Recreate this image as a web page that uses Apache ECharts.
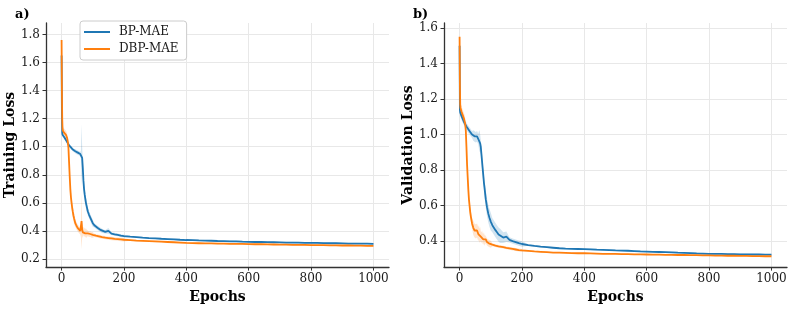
<!DOCTYPE html>
<html>
<head>
<meta charset="utf-8">
<script src="https://cdn.jsdelivr.net/npm/echarts@6/dist/echarts.min.js"></script>
<style>html,body{margin:0;padding:0;background:#fff}#c{width:793px;height:309px}</style>
</head>
<body>
<div id="c"></div>
<script>
// ---------- data ----------
const epochs = [0,1,2,3,4,6,8,10,12,14,16,18,20,22,24,26,28,30,32,34,36,38,40,44,48,52,56,60,62,64,66,68,70,72,74,76,78,80,84,88,92,96,100,105,110,115,120,125,130,140,150,160,170,180,190,200,
220,240,260,280,300,320,340,360,380,400,420,440,460,480,500,520,540,560,580,600,620,640,660,680,700,720,740,760,780,800,820,840,860,880,900,920,940,960,980,1000];

const trainBP = [1.65,1.25,1.10,1.085,1.08,1.075,1.07,1.065,1.055,1.05,1.04,1.035,1.025,1.02,1.01,1.005,1.0,0.995,0.99,0.985,0.98,0.975,0.972,0.968,0.962,0.958,0.952,0.948,0.944,0.94,0.92,0.85,0.76,0.70,0.66,0.63,0.60,0.58,0.54,0.515,0.495,0.475,0.455,0.44,0.43,0.422,0.414,0.407,0.40,0.393,0.40,0.381,0.376,0.372,0.367,0.363,
0.359,0.356,0.352,0.349,0.347,0.344,0.342,0.340,0.337,0.335,0.334,0.332,0.331,0.330,0.328,0.327,0.326,0.325,0.323,0.322,0.321,0.321,0.320,0.319,0.318,0.317,0.317,0.316,0.315,0.314,0.314,0.313,0.312,0.312,0.311,0.310,0.310,0.309,0.309,0.308];
const trainDBP = [1.76,1.40,1.20,1.13,1.115,1.105,1.10,1.095,1.09,1.085,1.075,1.06,1.035,0.99,0.89,0.79,0.70,0.64,0.60,0.565,0.535,0.51,0.49,0.455,0.435,0.42,0.408,0.40,0.395,0.47,0.41,0.39,0.40,0.385,0.395,0.382,0.39,0.38,0.383,0.376,0.378,0.372,0.372,0.368,0.366,0.363,0.361,0.358,0.356,0.352,0.349,0.346,0.343,0.341,0.339,0.337,
0.334,0.331,0.329,0.327,0.325,0.323,0.321,0.319,0.317,0.314,0.313,0.312,0.311,0.311,0.310,0.309,0.308,0.308,0.307,0.306,0.305,0.305,0.304,0.303,0.302,0.302,0.301,0.300,0.300,0.299,0.298,0.298,0.297,0.297,0.296,0.296,0.295,0.295,0.294,0.294];
const trainBPSpread = [0.08,0.05,0.02,0.012,0.012,0.012,0.012,0.012,0.012,0.012,0.012,0.012,0.012,0.012,0.012,0.012,0.012,0.012,0.012,0.012,0.012,0.012,0.012,0.015,0.015,0.015,0.015,0.015,0.03,0.22,0.08,0.05,0.04,0.04,0.04,0.04,0.04,0.04,0.025,0.025,0.025,0.025,0.025,0.015,0.015,0.015,0.015,0.015,0.015,0.012,0.02,0.01,0.01,0.01,0.01,0.01,
0.005,0.005,0.005,0.005,0.005,0.005,0.005,0.005,0.005,0.005,0.005,0.005,0.005,0.005,0.005,0.005,0.005,0.005,0.005,0.005,0.005,0.005,0.005,0.005,0.005,0.005,0.005,0.005,0.005,0.005,0.005,0.005,0.005,0.005,0.005,0.005,0.005,0.005,0.005,0.005];
const trainDBPSpread = [0.03,0.05,0.04,0.03,0.03,0.03,0.03,0.03,0.03,0.03,0.03,0.03,0.03,0.04,0.04,0.04,0.04,0.04,0.04,0.04,0.04,0.04,0.04,0.025,0.025,0.025,0.025,0.025,0.04,0.2,0.06,0.03,0.03,0.03,0.03,0.03,0.03,0.03,0.02,0.02,0.02,0.02,0.02,0.012,0.012,0.012,0.012,0.012,0.012,0.012,0.012,0.012,0.012,0.012,0.012,0.012,
0.005,0.005,0.005,0.005,0.005,0.005,0.005,0.005,0.005,0.005,0.005,0.005,0.005,0.005,0.005,0.005,0.005,0.005,0.005,0.005,0.005,0.005,0.005,0.005,0.005,0.005,0.005,0.005,0.005,0.005,0.005,0.005,0.005,0.005,0.005,0.005,0.005,0.005,0.005,0.005];

const valBP = [1.50,1.14,1.125,1.12,1.115,1.105,1.095,1.088,1.08,1.072,1.065,1.058,1.052,1.046,1.04,1.035,1.03,1.025,1.02,1.015,1.01,1.005,1.0,0.995,0.99,0.985,0.99,0.975,0.97,0.965,0.95,0.93,0.89,0.85,0.81,0.77,0.73,0.70,0.635,0.59,0.555,0.53,0.51,0.49,0.476,0.462,0.45,0.437,0.43,0.42,0.425,0.407,0.40,0.395,0.389,0.384,
0.378,0.373,0.369,0.366,0.363,0.360,0.358,0.357,0.356,0.355,0.354,0.352,0.351,0.350,0.348,0.347,0.346,0.344,0.342,0.341,0.340,0.339,0.338,0.337,0.335,0.334,0.333,0.331,0.330,0.329,0.328,0.328,0.327,0.327,0.326,0.326,0.325,0.325,0.324,0.324];
const valDBP = [1.55,1.28,1.17,1.15,1.14,1.13,1.12,1.11,1.10,1.09,1.08,1.06,1.02,0.93,0.83,0.76,0.69,0.635,0.60,0.565,0.54,0.52,0.50,0.475,0.46,0.455,0.46,0.44,0.45,0.43,0.44,0.425,0.42,0.43,0.415,0.41,0.42,0.404,0.41,0.395,0.39,0.386,0.383,0.38,0.377,0.375,0.373,0.371,0.369,0.366,0.362,0.359,0.356,0.353,0.35,0.348,
0.345,0.342,0.340,0.338,0.336,0.335,0.334,0.333,0.332,0.332,0.331,0.330,0.329,0.329,0.328,0.327,0.327,0.326,0.326,0.325,0.324,0.324,0.323,0.323,0.322,0.322,0.321,0.321,0.320,0.320,0.319,0.319,0.318,0.318,0.317,0.317,0.316,0.316,0.315,0.315];
const valBPSpread = [0.05,0.03,0.02,0.02,0.02,0.02,0.02,0.02,0.02,0.02,0.02,0.02,0.02,0.02,0.02,0.02,0.02,0.02,0.02,0.02,0.02,0.02,0.02,0.03,0.03,0.03,0.03,0.03,0.05,0.06,0.05,0.04,0.04,0.04,0.04,0.04,0.04,0.04,0.05,0.05,0.05,0.05,0.05,0.04,0.04,0.04,0.04,0.04,0.04,0.03,0.03,0.015,0.015,0.015,0.015,0.015,
0.004,0.004,0.004,0.004,0.004,0.004,0.004,0.004,0.004,0.004,0.004,0.004,0.004,0.004,0.004,0.004,0.004,0.004,0.004,0.004,0.004,0.004,0.004,0.004,0.004,0.004,0.004,0.004,0.004,0.004,0.004,0.004,0.004,0.004,0.004,0.004,0.004,0.004,0.004,0.004];
const valDBPSpread = [0.03,0.04,0.04,0.03,0.03,0.03,0.03,0.03,0.03,0.03,0.03,0.03,0.03,0.03,0.03,0.03,0.03,0.03,0.03,0.03,0.03,0.03,0.03,0.04,0.04,0.04,0.04,0.04,0.04,0.04,0.04,0.03,0.03,0.03,0.03,0.03,0.03,0.03,0.02,0.02,0.02,0.02,0.02,0.008,0.008,0.008,0.008,0.008,0.008,0.008,0.008,0.008,0.008,0.008,0.008,0.008,
0.003,0.003,0.003,0.003,0.003,0.003,0.003,0.003,0.003,0.003,0.003,0.003,0.003,0.003,0.003,0.003,0.003,0.003,0.003,0.003,0.003,0.003,0.003,0.003,0.003,0.003,0.003,0.003,0.003,0.003,0.003,0.003,0.003,0.003,0.003,0.003,0.003,0.003,0.003,0.003];

const xTicks = [0,200,400,600,800,1000];
const yTicksTrain = [0.2,0.4,0.6,0.8,1.0,1.2,1.4,1.6,1.8];
const yTicksVal = [0.4,0.6,0.8,1.0,1.2,1.4,1.6];
const seriesNames = ['BP-MAE','DBP-MAE'];
const panelLabels = ['a)','b)'];
const yTitles = ['Training Loss','Validation Loss'];
const xTitle = 'Epochs';

// ---------- styling ----------
const FONT = 'DejaVu Serif';
const BLUE = '#1f77b4', ORANGE = '#ff7f0e';
const BLUE_BAND = 'rgba(31,119,180,0.2)', ORANGE_BAND = 'rgba(255,127,14,0.2)';
const AX = '#333333';

function pairs(vals){ return epochs.map((e,i)=>[e, vals[i]]); }

function xAxisCfg(gi){
  return {
    type:'value', gridIndex:gi, min:-50, max:1050,
    name:xTitle, nameLocation:'middle', nameGap:17,
    nameTextStyle:{fontFamily:FONT, fontWeight:'bold', fontSize:14, color:'#000'},
    axisLine:{show:true, onZero:false, lineStyle:{color:AX, width:1.3}},
    axisTick:{show:true, length:3.5, customValues:xTicks, lineStyle:{color:AX, width:1}},
    axisLabel:{customValues:xTicks, fontFamily:FONT, fontSize:12, color:'#1a1a1a', margin:6,
      formatter:v=>String(v)},
    splitLine:{show:true, lineStyle:{color:'#e8e8e8', width:1}}
  };
}
function yAxisCfg(gi, min, max, ticks, title){
  return {
    type:'value', gridIndex:gi, min:min, max:max,
    name:title, nameLocation:'middle', nameGap:27, nameRotate:90,
    nameTextStyle:{fontFamily:FONT, fontWeight:'bold', fontSize:14, color:'#000'},
    axisLine:{show:true, onZero:false, lineStyle:{color:AX, width:1.3}},
    axisTick:{show:true, length:3.5, customValues:ticks, lineStyle:{color:AX, width:1}},
    axisLabel:{customValues:ticks, fontFamily:FONT, fontSize:12, color:'#1a1a1a', margin:6,
      formatter:v=>v.toFixed(1)},
    splitLine:{show:true, lineStyle:{color:'#e8e8e8', width:1}}
  };
}
function band(gi, vals, sp, color){
  return {
    type:'custom', xAxisIndex:gi, yAxisIndex:gi, silent:true, z:1,
    data:[[epochs[0], vals[0]]],
    renderItem:function(params, api){
      const up = [], lo = [];
      for (let i = 0; i < epochs.length; i++){
        up.push(api.coord([epochs[i], vals[i] + sp[i]]));
        lo.push(api.coord([epochs[i], vals[i] - sp[i]]));
      }
      return {type:'polygon', shape:{points: up.concat(lo.reverse())},
        style:{fill:color, stroke:null}};
    }
  };
}
function line(gi, name, vals, color, z){
  return {type:'line', name:name, xAxisIndex:gi, yAxisIndex:gi, data:pairs(vals), symbol:'none',
    lineStyle:{color:color, width:1.8}, itemStyle:{color:color}, z:z, silent:true};
}

const chart = echarts.init(document.getElementById('c'), null, {renderer:'canvas'});
chart.setOption({
  animation:false,
  backgroundColor:'#fff',
  grid:[
    {left:46, top:23, width:343, height:247},
    {left:444, top:23, width:343, height:247}
  ],
  title:[
    {text:panelLabels[0], left:10, top:3, textStyle:{fontFamily:FONT, fontWeight:'bold', fontSize:13, color:'#000'}},
    {text:panelLabels[1], left:408, top:3, textStyle:{fontFamily:FONT, fontWeight:'bold', fontSize:13, color:'#000'}}
  ],
  legend:{
    data:seriesNames, orient:'vertical', left:80, top:21, selectedMode:false,
    icon:'rect', itemWidth:26, itemHeight:2, itemGap:3,
    padding:[4,8,4,4], borderColor:'#cccccc', borderWidth:1, borderRadius:3, backgroundColor:'#fff',
    textStyle:{fontFamily:FONT, fontSize:12, color:'#1a1a1a', lineHeight:14, padding:[0,0,0,4]}
  },
  xAxis:[xAxisCfg(0), xAxisCfg(1)],
  yAxis:[yAxisCfg(0,0.142,1.882,yTicksTrain,yTitles[0]), yAxisCfg(1,0.254,1.628,yTicksVal,yTitles[1])],
  series:[
    band(0, trainBP, trainBPSpread, BLUE_BAND),
    band(0, trainDBP, trainDBPSpread, ORANGE_BAND),
    line(0, seriesNames[0], trainBP, BLUE, 3),
    line(0, seriesNames[1], trainDBP, ORANGE, 4),
    band(1, valBP, valBPSpread, BLUE_BAND),
    band(1, valDBP, valDBPSpread, ORANGE_BAND),
    line(1, seriesNames[0], valBP, BLUE, 3),
    line(1, seriesNames[1], valDBP, ORANGE, 4)
  ]
});
</script>
</body>
</html>
